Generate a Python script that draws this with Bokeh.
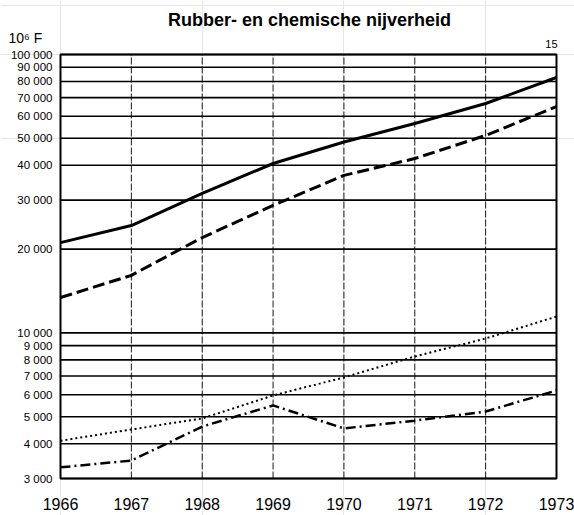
import math
from bokeh.plotting import figure
from bokeh.models import Label, Range1d
from bokeh.core.properties import value
from bokeh.embed import file_html
from bokeh.resources import INLINE

# ---- data ----
years = [1966, 1967, 1968, 1969, 1970, 1971, 1972, 1973]
solid_vals = [21100, 24300, 31700, 40600, 48500, 56500, 66700, 82700]
dashed_vals = [13400, 16100, 22000, 28700, 36800, 42300, 51200, 65000]
dotted_vals = [4100, 4500, 4930, 5960, 6920, 8230, 9550, 11450]
dashdot_vals = [3290, 3480, 4610, 5490, 4540, 4840, 5220, 6210]

y_ticks = [3000, 4000, 5000, 6000, 7000, 8000, 9000, 10000,
           20000, 30000, 40000, 50000, 60000, 70000, 80000, 90000, 100000]
y_tick_labels = ["3 000", "4 000", "5 000", "6 000", "7 000", "8 000", "9 000", "10 000",
                 "20 000", "30 000", "40 000", "50 000", "60 000", "70 000", "80 000", "90 000", "100 000"]
x_tick_labels = ["1966", "1967", "1968", "1969", "1970", "1971", "1972", "1973"]
title_text = "Rubber- en chemische nijverheid"
unit_text = "10\u2076 F"
page_text = "15"

# ---- layout (pixels) ----
W, H = 574, 515
BOX_L, BOX_R, BOX_T, BOX_B = 60, 556, 54, 478
FONT = "Liberation Sans"

x0, x1 = years[0], years[-1]
y0, y1 = y_ticks[0], y_ticks[-1]
kx = (x1 - x0) / (BOX_R - BOX_L)
decade_px = (BOX_B - BOX_T) / (math.log10(y1) - math.log10(y0))
x_range = Range1d(x0 - BOX_L * kx, x1 + (W - BOX_R) * kx)
y_range = Range1d(10 ** (math.log10(y0) - (H - BOX_B) / decade_px),
                  10 ** (math.log10(y1) + BOX_T / decade_px))

p = figure(width=W, height=H, y_axis_type="log", output_backend="svg",
           toolbar_location=None, x_range=x_range, y_range=y_range,
           x_axis_location=None, y_axis_location=None, min_border=0)
p.outline_line_color = None
p.background_fill_color = "white"
p.border_fill_color = "white"

n_y = len(y_ticks)
n_x = len(years)

# horizontal rules at each y tick
p.segment(x0=[x0] * n_y, y0=y_ticks, x1=[x1] * n_y, y1=y_ticks,
          line_color="black", line_width=1.6)
# thin broken vertical rules at each year
p.segment(x0=years[1:-1], y0=[y0] * (n_x - 2), x1=years[1:-1], y1=[y1] * (n_x - 2),
          line_color="black", line_width=0.9, line_dash="7 2")
# frame box
p.quad(left=[x0], right=[x1], bottom=[y0], top=[y1], fill_color=None,
       line_color="black", line_width=2)

# tick labels
p.text(x=[x0] * n_y, y=y_ticks, text=y_tick_labels, x_offset=-8,
       text_align="right", text_baseline="middle", text_font=value(FONT),
       text_font_size="11.5px", text_color="black")
p.text(x=years, y=[y0] * n_x, text=x_tick_labels, y_offset=25,
       text_align="center", text_baseline="middle", text_font=value(FONT),
       text_font_size="16px", text_color="black")

# series
p.line(years, solid_vals, line_color="black", line_width=3)
p.line(years, dashed_vals, line_color="black", line_width=3, line_dash="12 5")
p.line(years, dotted_vals, line_color="black", line_width=2, line_dash="2 3")
p.line(years, dashdot_vals, line_color="black", line_width=2.5, line_dash="10 4 2 4")

# titles (screen units measured from bottom-left of the frame, which fills the canvas)
p.add_layout(Label(x=309, y=H - 19, x_units="screen", y_units="screen", text=title_text,
                   text_font=FONT, text_font_size="18px", text_font_style="bold",
                   text_color="black", text_align="center", text_baseline="middle"))
p.add_layout(Label(x=8, y=H - 37, x_units="screen", y_units="screen", text=unit_text,
                   text_font=FONT, text_font_size="14px", text_color="black",
                   text_align="left", text_baseline="middle"))
p.add_layout(Label(x=557, y=H - 43, x_units="screen", y_units="screen", text=page_text,
                   text_font=FONT, text_font_size="11px", text_color="black",
                   text_align="right", text_baseline="middle"))

open("out.html", "w").write(file_html(p, INLINE))
